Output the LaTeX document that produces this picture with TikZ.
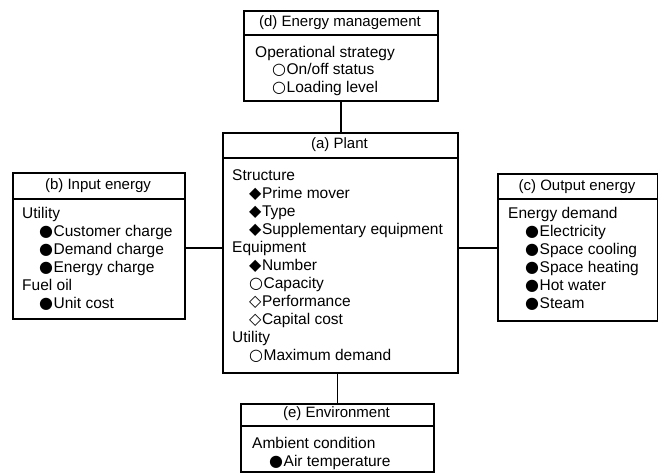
\documentclass[tikz,border=0pt]{standalone}
\usepackage{fontspec}
\setmainfont{Liberation Sans}
\newfontfamily\symfont{DejaVu Sans}
\newcommand{\mkr}[1]{{\symfont\fontsize{16}{16}\selectfont #1}\kern0.5pt}
\newcommand{\fc}{\mkr{●}}
\newcommand{\oc}{\mkr{○}}
\newcommand{\fd}{\mkr{◆}}
\newcommand{\od}{\mkr{◇}}
\newcommand{\ind}{\hspace*{17pt}}
\begin{document}
\begin{tikzpicture}[x=1pt,y=-1pt,
  box/.style={draw, line width=1.5pt, inner sep=0pt, anchor=north west},
  ttl/.style={inner sep=0pt, font=\fontsize{15}{18}\selectfont},
  body/.style={inner sep=0pt, anchor=base west, align=left, font=\fontsize{15.5}{18}\selectfont},
  sep/.style={line width=1.5pt},
  link/.style={line width=1.5pt}]
\useasboundingbox (0,0) rectangle (658,472);
% boxes
\node[box, minimum width=194pt, minimum height=90pt] (d) at (243,10) {};
\node[box, minimum width=235pt, minimum height=240pt] (a) at (222,132) {};
\node[box, minimum width=172pt, minimum height=146pt] (b) at (12,172) {};
\node[box, minimum width=160pt, minimum height=147pt] (c) at (497,173) {};
\node[box, minimum width=193pt, minimum height=68pt] (e) at (240,403) {};
% header separators
\draw[sep] (d.west |- 0,35) -- (d.east |- 0,35);
\draw[sep] (a.west |- 0,158) -- (a.east |- 0,158);
\draw[sep] (b.west |- 0,199) -- (b.east |- 0,199);
\draw[sep] (c.west |- 0,199) -- (c.east |- 0,199);
\draw[sep] (e.west |- 0,426) -- (e.east |- 0,426);
% titles
\node[ttl] (dt) at (340,23) {(d) Energy management};
\node[ttl] (at) at (339.5,145) {(a) Plant};
\node[ttl] (bt) at (98,186) {(b) Input energy};
\node[ttl] (ct) at (577,187) {(c) Output energy};
\node[ttl] (et) at (336.5,414) {(e) Environment};
% bodies (anchored at the baseline of their last line)
\node[body, font=\fontsize{15.5}{17.5}\selectfont] (db) at (255,92)
  {Operational strategy\\\ind\oc On/off status\\\ind\oc Loading level};
\node[body] (ab) at (232,360)
  {Structure\\\ind\fd Prime mover\\\ind\fd Type\\\ind\fd Supplementary equipment\\
   Equipment\\\ind\fd Number\\\ind\oc Capacity\\\ind\od Performance\\\ind\od Capital cost\\
   Utility\\\ind\oc Maximum demand};
\node[body] (bb) at (22,308)
  {Utility\\\ind\fc Customer charge\\\ind\fc Demand charge\\\ind\fc Energy charge\\
   Fuel oil\\\ind\fc Unit cost};
\node[body] (cb) at (508,308)
  {Energy demand\\\ind\fc Electricity\\\ind\fc Space cooling\\\ind\fc Space heating\\
   \ind\fc Hot water\\\ind\fc Steam};
\node[body] (eb) at (252,466)
  {Ambient condition\\\ind\fc Air temperature};
% connectors
\coordinate (aw) at (222,248);
\coordinate (ae) at (457,248);
\draw[link] (d.south) -- (d.south |- a.north);
\draw[link] (b.east |- aw) -- (aw);
\draw[link] (ae) -- (c.west |- ae);
\draw[link] (e.north) -- (e.north |- a.south);
\end{tikzpicture}
\end{document}
